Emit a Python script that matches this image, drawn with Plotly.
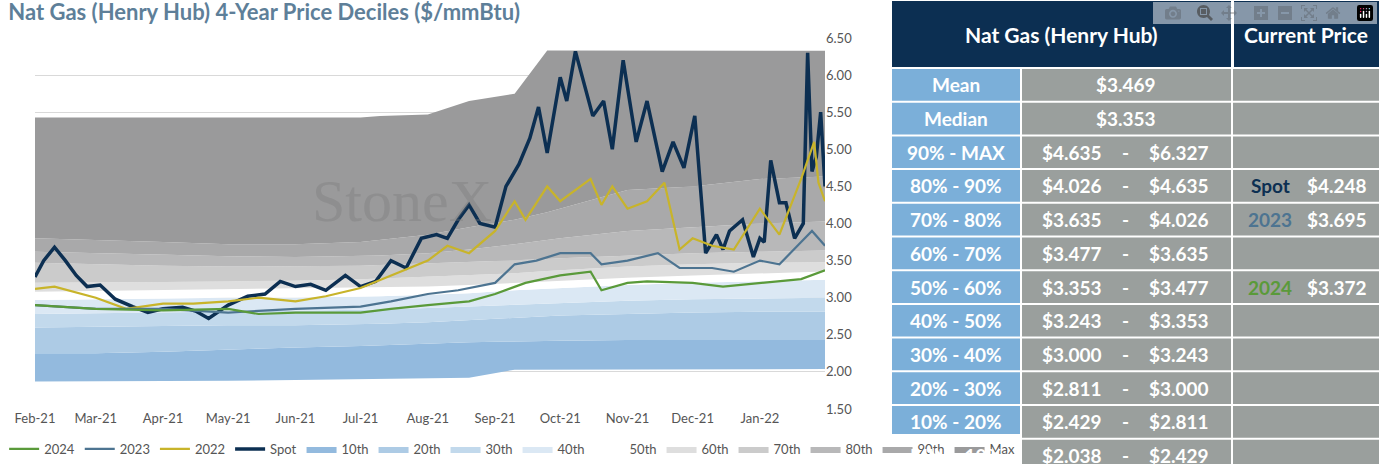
import plotly.graph_objects as go

W, H = 1379, 464

band_dates = ["2021-02-01", "2021-03-01", "2021-04-01", "2021-05-01", "2021-06-01", "2021-07-01",
              "2021-07-10", "2021-08-01", "2021-08-20", "2021-09-10", "2021-09-25", "2021-10-01",
              "2021-11-01", "2021-12-01", "2022-01-01", "2022-01-31"]
p_min = [1.87, 1.87, 1.87, 1.88, 1.89, 1.90, 1.90, 1.91, 1.92, 2.03, 2.03, 2.03, 2.03, 2.04, 2.04, 2.038]
p_10 = [2.25, 2.25, 2.27, 2.30, 2.33, 2.35, 2.36, 2.38, 2.40, 2.41, 2.42, 2.42, 2.43, 2.43, 2.43, 2.429]
p_20 = [2.60, 2.61, 2.62, 2.63, 2.63, 2.64, 2.65, 2.67, 2.70, 2.73, 2.75, 2.76, 2.78, 2.80, 2.81, 2.811]
p_30 = [2.78, 2.79, 2.80, 2.81, 2.82, 2.83, 2.84, 2.86, 2.88, 2.90, 2.92, 2.93, 2.96, 2.98, 2.99, 3.000]
p_40 = [2.97, 2.98, 2.99, 3.00, 3.00, 3.01, 3.02, 3.04, 3.06, 3.10, 3.12, 3.13, 3.17, 3.20, 3.22, 3.243]
p_50 = [3.08, 3.09, 3.10, 3.11, 3.12, 3.13, 3.14, 3.15, 3.17, 3.20, 3.22, 3.23, 3.27, 3.30, 3.33, 3.353]
p_60 = [3.20, 3.20, 3.21, 3.22, 3.23, 3.25, 3.26, 3.28, 3.30, 3.33, 3.36, 3.37, 3.42, 3.45, 3.47, 3.477]
p_70 = [3.47, 3.45, 3.43, 3.42, 3.42, 3.43, 3.44, 3.46, 3.48, 3.50, 3.52, 3.53, 3.57, 3.60, 3.62, 3.635]
p_80 = [3.62, 3.60, 3.58, 3.56, 3.55, 3.56, 3.57, 3.60, 3.65, 3.72, 3.78, 3.80, 3.90, 3.95, 4.00, 4.026]
p_90 = [3.80, 3.78, 3.75, 3.72, 3.72, 3.75, 3.78, 3.85, 3.95, 4.05, 4.15, 4.20, 4.45, 4.50, 4.60, 4.635]
p_max = [5.43, 5.43, 5.43, 5.43, 5.43, 5.43, 5.45, 5.47, 5.65, 5.75, 6.33, 6.33, 6.33, 6.33, 6.33, 6.327]

spot_dates = ["2021-02-01", "2021-02-05", "2021-02-10", "2021-02-15", "2021-02-20", "2021-02-25", "2021-03-03",
              "2021-03-10", "2021-03-18", "2021-03-25", "2021-04-01", "2021-04-10", "2021-04-16", "2021-04-22",
              "2021-05-01", "2021-05-10", "2021-05-18", "2021-05-25", "2021-06-01", "2021-06-08", "2021-06-15",
              "2021-06-24", "2021-07-01", "2021-07-08", "2021-07-15", "2021-07-22", "2021-07-29", "2021-08-05",
              "2021-08-10", "2021-08-15", "2021-08-20", "2021-08-25", "2021-09-01", "2021-09-06", "2021-09-12",
              "2021-09-17", "2021-09-21", "2021-09-25", "2021-10-01", "2021-10-04", "2021-10-08", "2021-10-16",
              "2021-10-21", "2021-10-25", "2021-10-30", "2021-11-05", "2021-11-10", "2021-11-17", "2021-11-22",
              "2021-11-27", "2021-12-02", "2021-12-07", "2021-12-12", "2021-12-15", "2021-12-18", "2021-12-24",
              "2021-12-29", "2022-01-01", "2022-01-03", "2022-01-06", "2022-01-10", "2022-01-13", "2022-01-17",
              "2022-01-21", "2022-01-23", "2022-01-25", "2022-01-27", "2022-01-29", "2022-01-31"]
spot = [3.28, 3.50, 3.68, 3.50, 3.30, 3.15, 3.17, 2.98, 2.88, 2.80, 2.85, 2.87, 2.82, 2.72,
        2.90, 3.02, 3.05, 3.22, 3.15, 3.18, 3.10, 3.30, 3.15, 3.22, 3.50, 3.40, 3.80, 3.85,
        3.80, 4.05, 4.25, 4.00, 3.95, 4.50, 4.80, 5.15, 5.57, 4.95, 5.97, 5.65, 6.32, 5.45,
        5.65, 5.00, 6.20, 5.10, 5.65, 4.70, 5.10, 4.75, 5.45, 3.60, 3.85, 3.65, 3.90, 4.05,
        3.55, 3.80, 3.75, 4.85, 4.28, 4.28, 3.80, 4.00, 6.30, 4.70, 4.90, 5.50, 4.50, 4.25][:69]

y22_dates = ["2021-02-01", "2021-02-10", "2021-03-01", "2021-03-15", "2021-04-01", "2021-04-15", "2021-05-01",
             "2021-05-15", "2021-06-01", "2021-06-15", "2021-07-01", "2021-07-15", "2021-08-01", "2021-08-10",
             "2021-08-20", "2021-09-01", "2021-09-10", "2021-09-15", "2021-09-25", "2021-10-01", "2021-10-15",
             "2021-10-20", "2021-10-25", "2021-11-01", "2021-11-10", "2021-11-18", "2021-11-25", "2021-12-01",
             "2021-12-10", "2021-12-20", "2022-01-01", "2022-01-10", "2022-01-20", "2022-01-26", "2022-01-28",
             "2022-01-31"]
y22 = [3.12, 3.15, 3.00, 2.85, 2.92, 2.92, 2.95, 3.00, 2.95, 3.02, 3.13, 3.30, 3.50, 3.70,
       3.60, 3.90, 4.30, 4.05, 4.50, 4.30, 4.60, 4.25, 4.50, 4.20, 4.30, 4.55, 3.65, 3.80,
       3.70, 3.65, 4.20, 3.85, 4.60, 5.10, 4.55, 4.30]

y23_dates = ["2021-02-01", "2021-03-01", "2021-04-01", "2021-05-01", "2021-06-01", "2021-07-01", "2021-07-15",
             "2021-08-01", "2021-08-15", "2021-09-01", "2021-09-10", "2021-09-20", "2021-10-01", "2021-10-15",
             "2021-10-20", "2021-11-01", "2021-11-15", "2021-11-25", "2021-12-10", "2021-12-20", "2022-01-01",
             "2022-01-10", "2022-01-20", "2022-01-25", "2022-01-31"]
y23 = [2.90, 2.85, 2.85, 2.80, 2.85, 2.88, 2.95, 3.05, 3.10, 3.20, 3.45, 3.50, 3.60, 3.60,
       3.45, 3.50, 3.60, 3.40, 3.40, 3.35, 3.50, 3.45, 3.75, 3.90, 3.70]

y24_dates = ["2021-02-01", "2021-03-01", "2021-04-01", "2021-05-01", "2021-05-15", "2021-06-01", "2021-07-01",
             "2021-07-15", "2021-08-01", "2021-08-20", "2021-09-01", "2021-09-15", "2021-10-01", "2021-10-15",
             "2021-10-20", "2021-11-01", "2021-11-10", "2021-12-01", "2021-12-15", "2022-01-01", "2022-01-20",
             "2022-01-31"]
y24 = [2.90, 2.85, 2.83, 2.85, 2.78, 2.80, 2.80, 2.85, 2.90, 2.95, 3.05, 3.20, 3.30, 3.35,
       3.10, 3.20, 3.22, 3.20, 3.15, 3.20, 3.25, 3.37]

tick_dates = ["2021-02-01", "2021-03-01", "2021-04-01", "2021-05-01", "2021-06-01", "2021-07-01",
              "2021-08-01", "2021-09-01", "2021-10-01", "2021-11-01", "2021-12-01", "2022-01-01"]
tick_labels = ["Feb-21", "Mar-21", "Apr-21", "May-21", "Jun-21", "Jul-21", "Aug-21", "Sep-21",
               "Oct-21", "Nov-21", "Dec-21", "Jan-22"]

row_labels = ["Mean", "Median", "90% - MAX", "80% - 90%", "70% - 80%", "60% - 70%", "50% - 60%",
              "40% - 50%", "30% - 40%", "20% - 30%", "10% - 20%", "MIN - 10%"]
row_lo = ["$3.469", "$3.353", "$4.635", "$4.026", "$3.635", "$3.477", "$3.353", "$3.243", "$3.000",
          "$2.811", "$2.429", "$2.038"]
row_hi = [None, None, "$6.327", "$4.635", "$4.026", "$3.635", "$3.477", "$3.353", "$3.243", "$3.000",
          "$2.811", "$2.429"]
current = {3: ("Spot", "$4.248", "#0c2f52"), 4: ("2023", "$3.695", "#4d7491"), 6: ("2024", "$3.372", "#5a9a3a")}

fig = go.Figure()
fig.add_trace(go.Scatter(x=band_dates, y=p_min, mode="lines", line=dict(width=0, color="rgba(0,0,0,0)"),
                         showlegend=False, hoverinfo="skip"))
bands = [("10th", p_10, "#93bade"), ("20th", p_20, "#adcbe5"), ("30th", p_30, "#c2d9ec"),
         ("40th", p_40, "#dbe8f4"), ("50th", p_50, "#ffffff"), ("60th", p_60, "#dedede"),
         ("70th", p_70, "#cbcbcb"), ("80th", p_80, "#b8b8b9"), ("90th", p_90, "#a9a9aa"),
         ("Max", p_max, "#9a9a9b")]
for i, (name, vals, col) in enumerate(bands):
    fig.add_trace(go.Scatter(x=band_dates, y=vals, name=name, mode="lines", fill="tonexty",
                             fillcolor=col, line=dict(width=0, color=col), legendrank=10 - i))

lines = [("Spot", spot_dates, spot, "#0c2f52", 3.5), ("2022", y22_dates, y22, "#c8b42a", 2.2),
         ("2023", y23_dates, y23, "#4d7491", 2.2), ("2024", y24_dates, y24, "#5a9a3a", 2.2)]
for i, (name, xs, ys, col, w) in enumerate(lines):
    fig.add_trace(go.Scatter(x=xs, y=ys, name=name, mode="lines", line=dict(color=col, width=w),
                             legendrank=20 + i))

fig.add_annotation(x="2021-07-20", y=4.3, text="StoneX", showarrow=False,
                   font=dict(family="Liberation Serif", size=60, color="rgba(120,120,120,0.35)"))


def px(x):
    return x / W


def py(y):
    return 1 - y / H


shapes = []
ann = []
navy, blue, gray = "#0c2f52", "#7bafd9", "#9a9f9d"
shapes.append(dict(type="rect", xref="paper", yref="paper", x0=px(892), x1=px(1231), y0=py(67), y1=py(1),
                   fillcolor=navy, line_width=0))
shapes.append(dict(type="rect", xref="paper", yref="paper", x0=px(1234), x1=px(1379), y0=py(67), y1=py(1),
                   fillcolor=navy, line_width=0))
hf = dict(family="Lato", size=21, color="white")
ann.append(dict(x=px(1061), y=py(34), text="<b>Nat Gas (Henry Hub)</b>", font=hf))
ann.append(dict(x=px(1306), y=py(34), text="<b>Current Price</b>", font=hf))
rh = 33.7
for i, lab in enumerate(row_labels):
    y0, y1 = 69 + i * rh, 69 + (i + 1) * rh - 2
    yc = py((y0 + y1) / 2)
    shapes.append(dict(type="rect", xref="paper", yref="paper", x0=px(892), x1=px(1020), y0=py(y1), y1=py(y0),
                       fillcolor=blue, line_width=0))
    shapes.append(dict(type="rect", xref="paper", yref="paper", x0=px(1022), x1=px(1231), y0=py(y1), y1=py(y0),
                       fillcolor=gray, line_width=0))
    shapes.append(dict(type="rect", xref="paper", yref="paper", x0=px(1233), x1=px(1379), y0=py(y1), y1=py(y0),
                       fillcolor=gray, line_width=0))
    tf = dict(family="Lato", size=19, color="white")
    ann.append(dict(x=px(956), y=yc, text="<b>" + lab + "</b>", font=tf))
    if row_hi[i] is None:
        ann.append(dict(x=px(1126), y=yc, text="<b>" + row_lo[i] + "</b>", font=tf))
    else:
        ann.append(dict(x=px(1072), y=yc, text="<b>" + row_lo[i] + "</b>", font=tf))
        ann.append(dict(x=px(1125), y=yc, text="<b>-</b>", font=tf))
        ann.append(dict(x=px(1179), y=yc, text="<b>" + row_hi[i] + "</b>", font=tf))
    if i in current:
        nm, val, col = current[i]
        ann.append(dict(x=px(1270), y=yc, text="<b>" + nm + "</b>",
                        font=dict(family="Lato", size=19, color=col)))
        ann.append(dict(x=px(1337), y=yc, text="<b>" + val + "</b>", font=tf))
for a in ann:
    a.update(xref="paper", yref="paper", showarrow=False, xanchor="center", yanchor="middle")

fig.update_layout(
    width=W, height=H, autosize=False, margin=dict(l=0, r=0, t=0, b=0, pad=0),
    paper_bgcolor="white", plot_bgcolor="white",
    font=dict(family="Lato", color="#555555", size=13),
    title=dict(text="<b>Nat Gas (Henry Hub) 4-Year Price Deciles ($/mmBtu)</b>", x=0.006, y=0.99,
               xanchor="left", yanchor="top", font=dict(size=22, color="#5e7f99")),
    xaxis=dict(domain=[px(35), px(825)], range=["2021-02-01", "2022-01-31"], tickvals=tick_dates,
               ticktext=tick_labels, showgrid=False, ticks="", tickfont=dict(size=13), automargin=False),
    yaxis=dict(domain=[py(409), py(38)], range=[1.5, 6.5], side="right", dtick=0.5, tickformat=".2f",
               gridcolor="#d9d9d9", showline=False, zeroline=False, tickfont=dict(size=13), automargin=False),
    legend=dict(orientation="h", x=0.003, y=0.0, yanchor="bottom", xanchor="left",
                font=dict(size=13, color="#555555"), itemwidth=30, tracegroupgap=0),
    shapes=shapes, annotations=fig.layout.annotations + tuple(ann),
    showlegend=True,
)
fig.write_html("out.html", post_script="document.body.style.margin='0';")
